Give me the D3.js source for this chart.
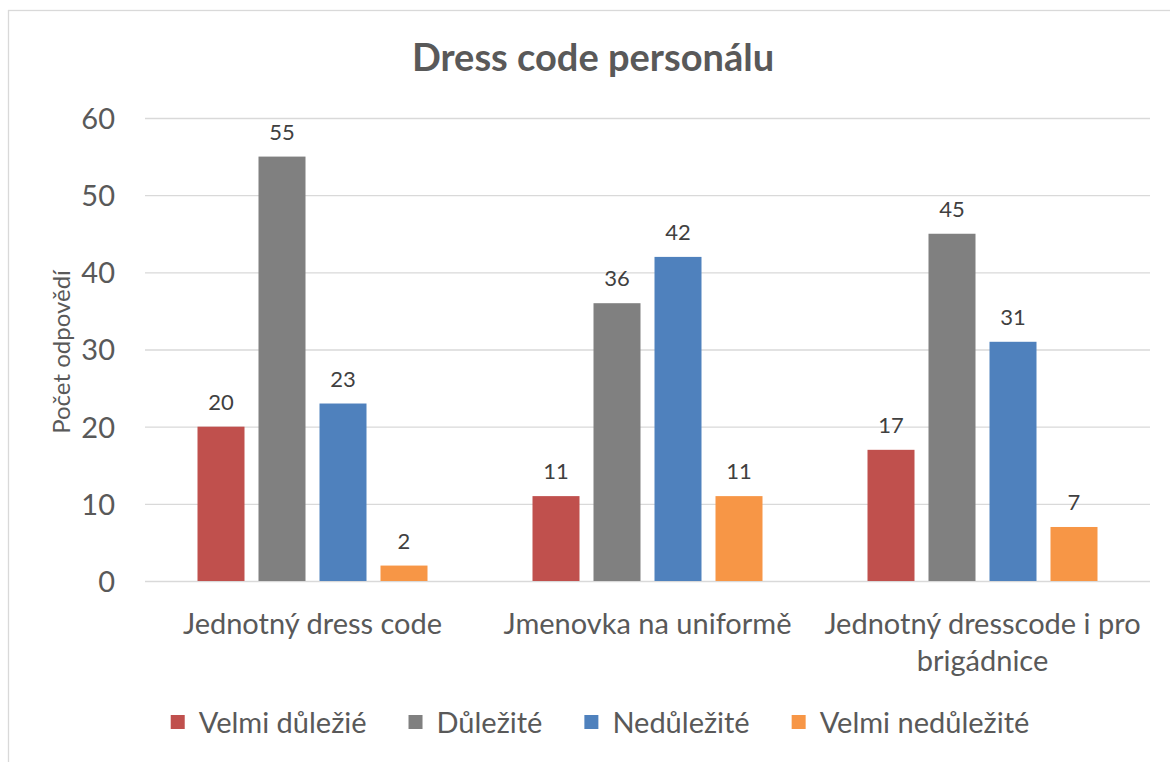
<!DOCTYPE html>
<html>
<head>
<meta charset="utf-8">
<script src="https://cdn.jsdelivr.net/npm/d3@7"></script>
<style>
  body { margin: 0; background: #fff; }
  svg { display: block; }
</style>
</head>
<body>
<svg id="chart" width="1170" height="762"></svg>
<script>
const title = "Dress code personálu";
const yAxisTitle = "Počet odpovědí";
const categories = ["Jednotný dress code", "Jmenovka na uniformě", "Jednotný dresscode i pro brigádnice"];
const categoryLines = [["Jednotný dress code"], ["Jmenovka na uniformě"], ["Jednotný dresscode i pro", "brigádnice"]];
const seriesNames = ["Velmi důležié", "Důležité", "Nedůležité", "Velmi nedůležité"];
const seriesColors = ["#C0504D", "#808080", "#4F81BD", "#F79646"];
const velmiDulezite = [20, 11, 17];
const dulezite = [55, 36, 45];
const nedulezite = [23, 42, 31];
const velmiNedulezite = [2, 11, 7];
const seriesValues = [velmiDulezite, dulezite, nedulezite, velmiNedulezite];
const yTicks = [0, 10, 20, 30, 40, 50, 60];

const FONT = "Lato, 'Open Sans', sans-serif";
const svg = d3.select("#chart");
const W = 1170, H = 762;
const plot = { left: 145, right: 1150, top: 118, bottom: 581 };

// outer border
svg.append("rect").attr("x", 8.5).attr("y", 10.5).attr("width", W + 10).attr("height", H + 10)
  .attr("fill", "#fff").attr("stroke", "#d9d9d9").attr("stroke-width", 1.3);

const y = d3.scaleLinear().domain([0, 60]).range([plot.bottom, plot.top]);
const x0 = d3.scaleBand().domain(categories).range([plot.left, plot.right]).paddingInner(0).paddingOuter(0);
const x1 = d3.scaleBand().domain(seriesNames).range([52.5, x0.bandwidth() - 52.5]).paddingInner(14 / 61).paddingOuter(0);

// gridlines
const yAxis = d3.axisLeft(y).tickValues(yTicks).tickSize(-(plot.right - plot.left)).tickPadding(30).tickFormat(d3.format("d"));
const gy = svg.append("g").attr("transform", `translate(${plot.left},0)`).call(yAxis);
gy.select(".domain").remove();
gy.selectAll(".tick line").attr("stroke", "#d9d9d9").attr("stroke-width", 1.3);
gy.selectAll(".tick text").attr("fill", "#595959").style("font-family", FONT).style("font-size", "29px").attr("dy", "0.36em");

// bars
const groups = svg.append("g").selectAll("g").data(categories).join("g")
  .attr("transform", d => `translate(${x0(d)},0)`);
seriesNames.forEach((s, si) => {
  groups.append("rect")
    .attr("x", x1(s))
    .attr("width", x1.bandwidth())
    .attr("y", (d, ci) => y(seriesValues[si][ci]))
    .attr("height", (d, ci) => y(0) - y(seriesValues[si][ci]))
    .attr("fill", seriesColors[si]);
  groups.append("text")
    .attr("x", x1(s) + x1.bandwidth() / 2)
    .attr("y", (d, ci) => y(seriesValues[si][ci]) - 17)
    .attr("text-anchor", "middle")
    .attr("fill", "#404040")
    .style("font-family", FONT).style("font-size", "22px")
    .text((d, ci) => seriesValues[si][ci]);
});

// category labels
categories.forEach((c, ci) => {
  const t = svg.append("text").attr("text-anchor", "middle").attr("fill", "#595959")
    .style("font-family", FONT).style("font-size", "29px");
  categoryLines[ci].forEach((line, li) => {
    t.append("tspan").attr("x", x0(c) + x0.bandwidth() / 2).attr("y", 634 + li * 37).text(line);
  });
});

// title
svg.append("text").attr("x", 593).attr("y", 71).attr("text-anchor", "middle")
  .attr("fill", "#595959").style("font-family", FONT).style("font-size", "38px").style("font-weight", "bold")
  .text(title);

// y axis title
svg.append("text").attr("transform", "translate(70,352) rotate(-90)").attr("text-anchor", "middle")
  .attr("fill", "#595959").style("font-family", FONT).style("font-size", "24px")
  .text(yAxisTitle);

// legend
const legend = svg.append("g");
let lx = 0;
seriesNames.forEach((s, si) => {
  const g = legend.append("g").attr("transform", `translate(${lx},0)`);
  g.append("rect").attr("x", 0).attr("y", -18).attr("width", 14).attr("height", 14).attr("fill", seriesColors[si]);
  const t = g.append("text").attr("x", 28).attr("y", 0).attr("fill", "#595959")
    .style("font-family", FONT).style("font-size", "29px").text(s);
  lx += 28 + t.node().getComputedTextLength() + 42;
});
const legendWidth = lx - 42;
legend.attr("transform", `translate(${600 - legendWidth / 2},733)`);
</script>
</body>
</html>
